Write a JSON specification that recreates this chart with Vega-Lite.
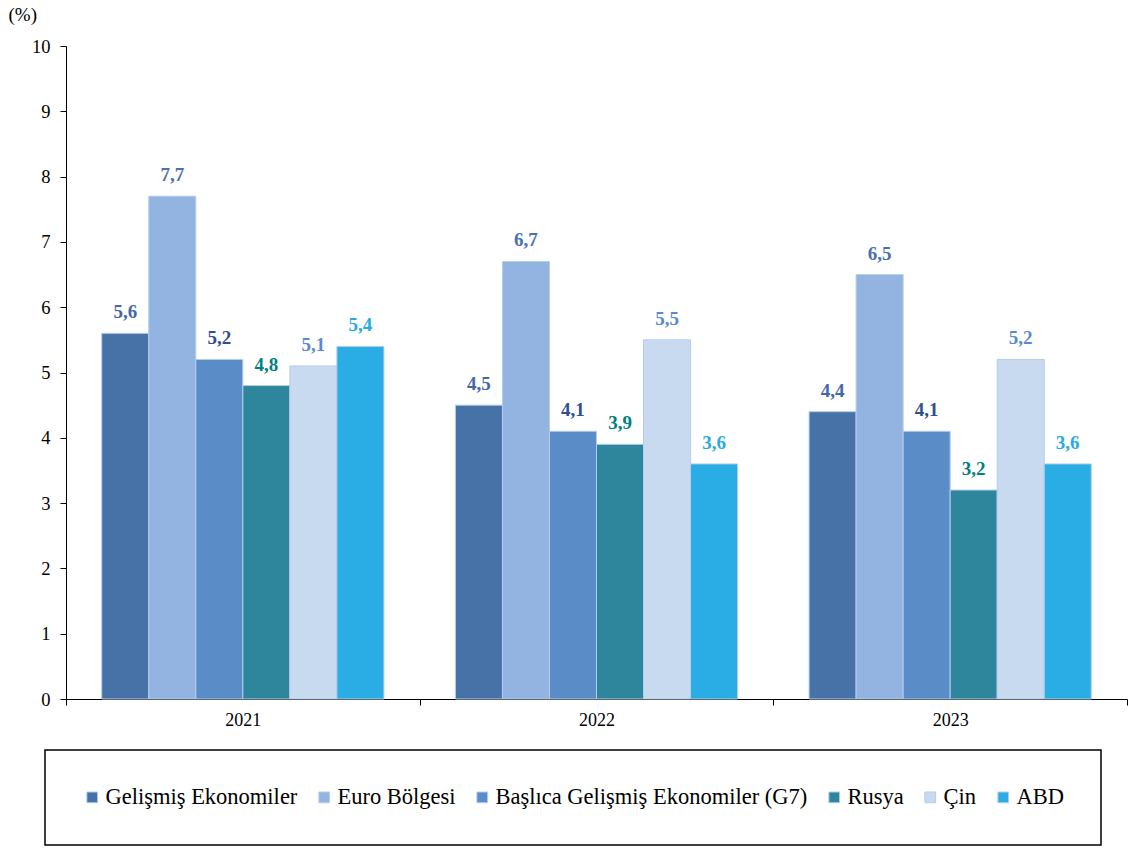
{
  "$schema": "https://vega.github.io/schema/vega-lite/v6.json",
  "autosize": {"type": "none"},
  "padding": {"left": 66, "top": 46, "right": 1, "bottom": 149},
  "width": 1061,
  "height": 653,
  "background": "white",
  "data": {
    "values": [
      {"year": "2021", "series": "Gelişmiş Ekonomiler", "value": 5.6, "label": "5,6"},
      {"year": "2021", "series": "Euro Bölgesi", "value": 7.7, "label": "7,7"},
      {"year": "2021", "series": "Başlıca Gelişmiş Ekonomiler (G7)", "value": 5.2, "label": "5,2"},
      {"year": "2021", "series": "Rusya", "value": 4.8, "label": "4,8"},
      {"year": "2021", "series": "Çin", "value": 5.1, "label": "5,1"},
      {"year": "2021", "series": "ABD", "value": 5.4, "label": "5,4"},
      {"year": "2022", "series": "Gelişmiş Ekonomiler", "value": 4.5, "label": "4,5"},
      {"year": "2022", "series": "Euro Bölgesi", "value": 6.7, "label": "6,7"},
      {"year": "2022", "series": "Başlıca Gelişmiş Ekonomiler (G7)", "value": 4.1, "label": "4,1"},
      {"year": "2022", "series": "Rusya", "value": 3.9, "label": "3,9"},
      {"year": "2022", "series": "Çin", "value": 5.5, "label": "5,5"},
      {"year": "2022", "series": "ABD", "value": 3.6, "label": "3,6"},
      {"year": "2023", "series": "Gelişmiş Ekonomiler", "value": 4.4, "label": "4,4"},
      {"year": "2023", "series": "Euro Bölgesi", "value": 6.5, "label": "6,5"},
      {"year": "2023", "series": "Başlıca Gelişmiş Ekonomiler (G7)", "value": 4.1, "label": "4,1"},
      {"year": "2023", "series": "Rusya", "value": 3.2, "label": "3,2"},
      {"year": "2023", "series": "Çin", "value": 5.2, "label": "5,2"},
      {"year": "2023", "series": "ABD", "value": 3.6, "label": "3,6"}
    ]
  },
  "encoding": {
    "x": {
      "field": "year", "type": "nominal",
      "scale": {"paddingInner": 0, "paddingOuter": 0},
      "axis": {
        "title": null, "labelAngle": 0, "tickBand": "extent",
        "domainColor": "black", "tickColor": "black", "tickSize": 6,
        "labelFontSize": 18, "labelColor": "black",
        "labelPadding": 6
      }
    },
    "xOffset": {
      "field": "series", "type": "nominal",
      "sort": ["Gelişmiş Ekonomiler", "Euro Bölgesi", "Başlıca Gelişmiş Ekonomiler (G7)", "Rusya", "Çin", "ABD"],
      "scale": {"paddingInner": 0, "paddingOuter": 0.76}
    },
    "y": {
      "field": "value", "type": "quantitative",
      "scale": {"domain": [0, 10], "nice": false},
      "axis": {
        "title": "(%)", "titleAngle": 0, "titleAlign": "left", "titleBaseline": "middle",
        "titleX": -58, "titleY": -32, "titleFontSize": 19,
        "titleFontWeight": "normal", "titleColor": "black",
        "values": [0,1,2,3,4,5,6,7,8,9,10], "grid": false,
        "domainColor": "black", "tickColor": "black", "tickSize": 6,
        "labelFontSize": 18.5, "labelColor": "black",
        "labelPadding": 10
      }
    }
  },
  "layer": [
    {
      "mark": {"type": "bar", "stroke": "#B4CDEB", "strokeWidth": 1},
      "encoding": {
        "color": {
          "field": "series", "type": "nominal",
          "scale": {
            "domain": ["Gelişmiş Ekonomiler", "Euro Bölgesi", "Başlıca Gelişmiş Ekonomiler (G7)", "Rusya", "Çin", "ABD"],
            "range": ["#4672A8", "#93B3E0", "#5A8DC8", "#2E869C", "#C8DAEF", "#2AADE4"]
          },
          "legend": {
            "title": null, "orient": "none", "direction": "horizontal",
            "legendX": -21, "legendY": 704,
            "padding": 36, "strokeColor": "black",
            "symbolType": "square", "symbolSize": 115, "symbolStrokeWidth": 1,
            "labelFontSize": 22.5, "labelColor": "black",
            "labelLimit": 500, "labelOffset": 2, "columnPadding": 15
          }
        }
      }
    },
    {
      "mark": {"type": "text", "baseline": "bottom", "dy": -11, "fontSize": 19, "fontWeight": "bold"},
      "encoding": {
        "text": {"field": "label"},
        "color": {
          "field": "series", "type": "nominal",
          "scale": {
            "domain": ["Gelişmiş Ekonomiler", "Euro Bölgesi", "Başlıca Gelişmiş Ekonomiler (G7)", "Rusya", "Çin", "ABD"],
            "range": ["#4466AA", "#4A6FB5", "#2F4F8F", "#008080", "#5A89CF", "#29ABE2"]
          },
          "legend": null
        }
      }
    }
  ],
  "resolve": {"scale": {"color": "independent"}},
  "config": {
    "font": "Liberation Serif",
    "legend": {"strokeWidth": 1.5},
    "view": {"stroke": null}
  }
}
